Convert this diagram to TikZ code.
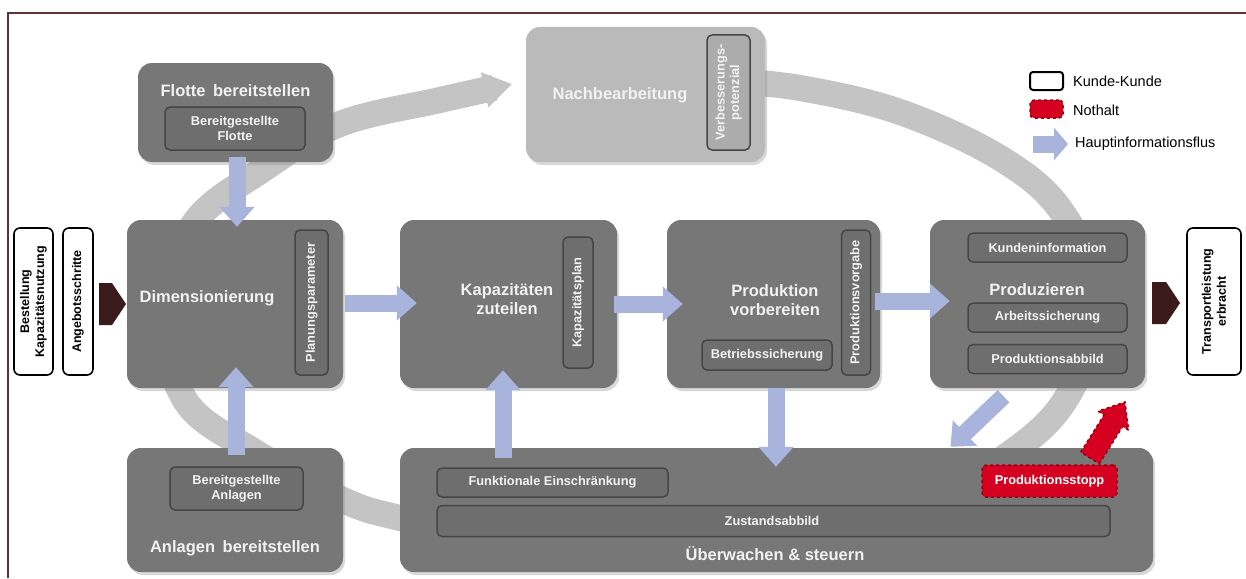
\documentclass[tikz,border=0pt]{standalone}
\usepackage{fontspec}
\setmainfont{Liberation Sans}
\usetikzlibrary{arrows.meta,shadows,calc}
\definecolor{boxgray}{RGB}{119,119,119}
\definecolor{innergray}{RGB}{110,110,110}
\definecolor{innerborder}{RGB}{70,70,70}
\definecolor{lightbox}{RGB}{186,186,186}
\definecolor{lightinner}{RGB}{172,172,172}
\definecolor{ringgray}{RGB}{196,196,196}
\definecolor{flowblue}{RGB}{168,180,220}
\definecolor{darkmaroon}{RGB}{58,26,26}
\definecolor{framecol}{RGB}{95,50,55}
\definecolor{stopred}{RGB}{214,0,32}
\definecolor{stopdark}{RGB}{150,0,20}
\definecolor{txtwhite}{RGB}{242,242,242}
\begin{document}
\begin{tikzpicture}[x=1pt,y=-1pt,
  mainbox/.style={fill=boxgray, rounded corners=14pt, inner sep=0pt,
    drop shadow={shadow xshift=2pt, shadow yshift=-3pt, opacity=0.3}},
  lightmain/.style={mainbox, fill=lightbox},
  innerbox/.style={draw=innerborder, line width=1.5pt, fill=innergray, rounded corners=5pt,
    text=txtwhite, font=\bfseries\fontsize{12.8}{14.5}\selectfont, align=center, inner sep=0pt},
  lightinnerbox/.style={innerbox, fill=lightinner, draw=innerborder},
  titletext/.style={text=txtwhite, font=\bfseries\fontsize{16.5}{19.5}\selectfont, align=center, inner sep=0pt},
  custbox/.style={draw=black, line width=1.6pt, fill=white, rounded corners=6pt, inner sep=0pt,
    font=\bfseries\fontsize{12.5}{15}\selectfont, align=center},
  legtext/.style={anchor=west, font=\fontsize{14.5}{16}\selectfont, inner sep=0pt},
  stopbox/.style={fill=stopred, draw=stopdark, dashed, line width=1.5pt, rounded corners=4pt,
    text=white, font=\bfseries\fontsize{12.8}{14.5}\selectfont, inner sep=0pt},
  stoparrow/.style={fill=stopred, draw=stopdark, dashed, line width=1.5pt},
  flow/.style={draw=flowblue, line width=17pt, -{Triangle[width=34pt,length=20pt]}},
  ring/.style={draw=ringgray, line width=26pt, -{Triangle[width=34pt,length=28pt]}},
  pent/.style={fill=darkmaroon}
]
\useasboundingbox (0,0) rectangle (1246,578);
\fill[white] (0,0) rectangle (1246,578);
\draw[framecol, line width=1.5pt] (8,578) -- (8,13) -- (1246,13);

% ring
\draw[ring] plot[smooth, tension=0.6] coordinates {(720,80) (800,88) (900,112) (1000,158) (1062,212) (1098,300) (1070,392) (1012,452) (900,515) (700,545) (500,538) (400,518) (343,500) (255,452) (185,400) (163,305) (195,222) (262,170) (340,124) (440,100) (512,84)};

% main boxes
\node[mainbox, minimum width=195pt, minimum height=99pt] (flotte) at (235.5,112.5) {};
\node[lightmain, minimum width=239pt, minimum height=135pt] (nach) at (645.5,94.5) {};
\node[mainbox, minimum width=216pt, minimum height=168pt] (dim) at (235,304) {};
\node[mainbox, minimum width=217pt, minimum height=168pt] (kap) at (508.5,304) {};
\node[mainbox, minimum width=213pt, minimum height=168pt] (prep) at (773.5,304) {};
\node[mainbox, minimum width=215pt, minimum height=168pt] (prod) at (1037.5,304) {};
\node[mainbox, minimum width=216pt, minimum height=124pt] (anl) at (235,510) {};
\node[mainbox, minimum width=753pt, minimum height=124pt] (ueb) at (776.5,510) {};

% titles
\node[titletext] (flotteT) at (235.5,91) {Flotte\hspace{3pt} bereitstellen};
\node[titletext] (nachT) at (620,95) {Nachbearbeitung};
\node[titletext] (dimT) at (207,298) {Dimensionierung};
\node[titletext] (kapT) at (507,299) {Kapazitäten\\zuteilen};
\node[titletext] (prepT) at (775,300) {Produktion\\vorbereiten};
\node[titletext] (prodT) at (1037,290) {Produzieren};
\node[titletext] (anlT) at (235,548) {Anlagen\hspace{3pt} bereitstellen};
\node[titletext] (uebT) at (775,554) {Überwachen \& steuern};

% inner boxes
\node[innerbox, minimum width=140pt, minimum height=43pt] (flotteI) at (235,128.5) {Bereitgestellte\\Flotte};
\node[lightinnerbox, rotate=90, minimum width=115pt, minimum height=43pt] (nachI) at (728.5,92.5) {Verbesserungs-\\potenzial};
\node[innerbox, rotate=90, minimum width=145pt, minimum height=33pt] (dimI) at (311.5,302.5) {Planungsparameter};
\node[innerbox, rotate=90, minimum width=131pt, minimum height=30pt] (kapI) at (578,302.5) {Kapazitätsplan};
\node[innerbox, rotate=90, minimum width=145pt, minimum height=29pt] (prepI) at (856,302.5) {Produktionsvorgabe};
\node[innerbox, minimum width=130pt, minimum height=30pt] (prepB) at (767,355) {Betriebssicherung};
\node[innerbox, minimum width=159pt, minimum height=29pt] (prodK) at (1047.5,247.5) {Kundeninformation};
\node[innerbox, minimum width=159pt, minimum height=29pt] (prodA) at (1047.5,317.5) {Arbeitssicherung};
\node[innerbox, minimum width=159pt, minimum height=29pt] (prodP) at (1047.5,359) {Produktionsabbild};
\node[innerbox, minimum width=133pt, minimum height=43pt] (anlI) at (236.5,488.5) {Bereitgestellte\\Anlagen};
\node[innerbox, minimum width=231pt, minimum height=29pt] (uebF) at (552.5,482.5) {Funktionale Einschränkung};
\node[innerbox, minimum width=673pt, minimum height=31pt] (uebZ) at (773.5,521) {};
\node[text=txtwhite, font=\bfseries\fontsize{12.8}{14.5}\selectfont, inner sep=0pt] (uebZT) at (772,521) {Zustandsabbild};
\node[stopbox, minimum width=135pt, minimum height=32pt] (stopp) at (1049.5,481) {Produktionsstopp};

% customer boxes
\node[custbox, rotate=90, minimum width=147pt, minimum height=39pt] (bestell) at (33.5,301.5) {Bestellung\\Kapazitätsnutzung};
\node[custbox, rotate=90, minimum width=147pt, minimum height=30pt] (angebot) at (78,301.5) {Angebotsschritte};
\node[custbox, rotate=90, minimum width=147pt, minimum height=54pt] (transport) at (1214,301.5) {Transportleistung\\erbracht};
\fill[pent] (99,283) -- (112,283) -- (126,304) -- (112,325) -- (99,325) -- cycle;
\fill[pent] (1152,282) -- (1166,282) -- (1180,303) -- (1166,324) -- (1152,324) -- cycle;

% flows
\draw[flow] ($(dim.east)+(2,-1)$) -- ($(kap.west)+(17,-1)$);
\draw[flow] ($(kap.east)+(-3,0)$) -- ($(prep.west)+(16,0)$);
\draw[flow] ($(prep.east)+(-5,-3)$) -- ($(prod.west)+(20,-3)$);
\draw[flow] ($(flotte.south)+(1.5,-5)$) -- ($(dim.north)+(2,7)$);
\draw[flow] ($(anl.north)+(1,7)$) -- ($(dim.south)+(1,-21)$);
\draw[flow] ($(kap.south |- ueb.north)+(-5.5,10)$) -- ($(kap.south)+(-5.5,-18)$);
\draw[flow] ($(prep.south)+(2.5,0)$) -- ($(prep.south |- ueb.north)+(2.5,19)$);
\draw[flow] ($(prod.south)+(-34,8)$) -- ($(prod.south |- ueb.north)+(-87,-1)$);

% emergency arrow
\filldraw[stoparrow] (1099.3,463.8) -- (1122.6,426.5) -- (1128.6,430.2) -- (1125,402) -- (1098.0,411.2) -- (1104.0,414.9) -- (1080.7,452.2) -- cycle;

% legend
\node[custbox, minimum width=33pt, minimum height=18pt, rounded corners=3pt, line width=2pt] (legK) at (1046.5,81) {};
\node[legtext] (legKT) at (1073,81) {Kunde-Kunde};
\node[stopbox, minimum width=33pt, minimum height=18pt] (legN) at (1046.5,109) {};
\node[legtext] (legNT) at (1073,110) {Nothalt};
\coordinate (legA1) at (1033,144);
\coordinate (legA2) at (1068,144);
\draw[flow, -{Triangle[width=32pt,length=14pt]}] (legA1) -- (legA2);
\node[legtext] (legAT) at (1075,144) {Hauptinformationsflus};
\end{tikzpicture}
\end{document}
